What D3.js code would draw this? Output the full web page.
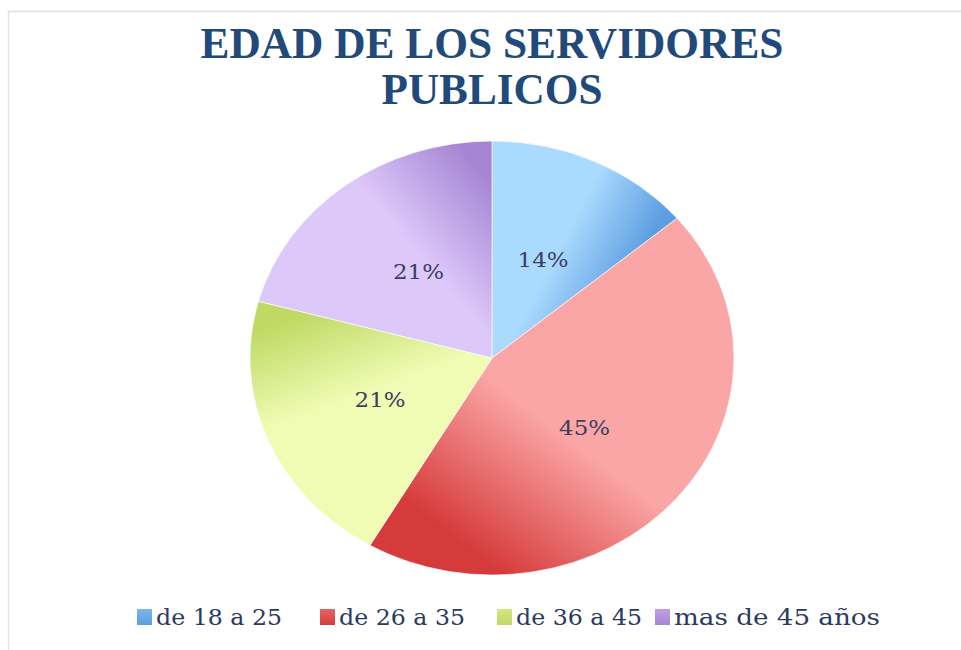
<!DOCTYPE html>
<html>
<head>
<meta charset="utf-8">
<script src="https://cdn.jsdelivr.net/npm/d3@7"></script>
<style>
  body { margin: 0; background: #fff; }
  svg { display: block; }
</style>
</head>
<body>
<div class="display"></div>
<script>
// data
const categories = ["de 18 a 25", "de 26 a 35", "de 36 a 45", "mas de 45 años"];
const values = [14, 45, 21, 21];
const lightColors = ["#abdaff", "#fba6a6", "#f0fcb4", "#ddc8fa"];
const darkColors = ["#5c9ee0", "#d63b3b", "#bfd964", "#a686d4"];
const titleLines = ["EDAD DE LOS SERVIDORES", "PUBLICOS"];

const width = 961, height = 650;
const svg = d3.select(".display").append("svg")
  .attr("width", width)
  .attr("height", height);

const defs = svg.append("defs");

// faint frame of the chart area
svg.append("rect")
  .attr("x", 8.5).attr("y", 11.5)
  .attr("width", width + 10).attr("height", height + 10)
  .attr("fill", "#ffffff")
  .attr("stroke", "#dde1e8")
  .attr("stroke-width", 1.5);

// title
svg.append("g")
  .selectAll("text")
  .data(titleLines)
  .join("text")
  .attr("x", 492)
  .attr("y", (d, i) => 58 + i * 46)
  .attr("text-anchor", "middle")
  .attr("font-family", "Liberation Serif, serif")
  .attr("font-weight", "bold")
  .attr("font-size", 44)
  .attr("fill", "#214a7b")
  .attr("textLength", (d, i) => i === 0 ? 583 : 221)
  .attr("lengthAdjust", "spacingAndGlyphs")
  .text(d => d);

// pie, a bit wider than tall like the original
const radius = 217;
const cx = 492, cy = 358;
const stretch = 242 / 217;

const pie = d3.pie().sort(null).value(d => d);
const arcs = pie(values);
const arc = d3.arc().innerRadius(0).outerRadius(radius);
const labelArc = d3.arc().innerRadius(radius * 0.5).outerRadius(radius * 0.5);

// gradients go from light at the start edge to dark at the end edge
arcs.forEach((a, i) => {
  const mid = (a.startAngle + a.endAngle) / 2;
  const half = (a.endAngle - a.startAngle) / 2;
  const r0 = radius * 0.65;
  const px = Math.sin(mid) * r0, py = -Math.cos(mid) * r0;
  const t = r0 * Math.sin(Math.min(half, Math.PI / 2)) + 20;
  const g = defs.append("linearGradient")
    .attr("id", "slice" + i)
    .attr("gradientUnits", "userSpaceOnUse")
    .attr("x1", px - Math.cos(mid) * t)
    .attr("y1", py - Math.sin(mid) * t)
    .attr("x2", px + Math.cos(mid) * t)
    .attr("y2", py + Math.sin(mid) * t);
  g.append("stop").attr("offset", "0%").attr("stop-color", lightColors[i]);
  g.append("stop").attr("offset", "55%").attr("stop-color", lightColors[i]);
  g.append("stop").attr("offset", "100%").attr("stop-color", darkColors[i]);

  const lg = defs.append("linearGradient")
    .attr("id", "key" + i)
    .attr("x1", 0).attr("y1", 0).attr("x2", 0).attr("y2", 1);
  lg.append("stop").attr("offset", "0%").attr("stop-color", d3.interpolateRgb(lightColors[i], darkColors[i])(0.6));
  lg.append("stop").attr("offset", "100%").attr("stop-color", darkColors[i]);
});

const pieGroup = svg.append("g")
  .attr("transform", `translate(${cx},${cy}) scale(${stretch},1)`);

pieGroup.selectAll("path")
  .data(arcs)
  .join("path")
  .attr("d", arc)
  .attr("fill", (d, i) => `url(#slice${i})`)
  .attr("stroke", "#ffffff")
  .attr("stroke-width", 0.6);

// percentage labels
svg.append("g")
  .selectAll("text")
  .data(arcs)
  .join("text")
  .attr("x", d => cx + labelArc.centroid(d)[0] * stretch)
  .attr("y", d => cy + labelArc.centroid(d)[1])
  .attr("dy", "0.36em")
  .attr("text-anchor", "middle")
  .attr("font-family", "DejaVu Serif, serif")
  .attr("font-size", 21)
  .attr("fill", "#3b3f5e")
  .attr("textLength", 51)
  .attr("lengthAdjust", "spacingAndGlyphs")
  .text(d => d.data + "%");

// legend
const legendX = [137, 320, 497, 655];
const legend = svg.append("g")
  .selectAll("g")
  .data(categories)
  .join("g")
  .attr("transform", (d, i) => `translate(${legendX[i]},617)`);

legend.append("rect")
  .attr("x", 0).attr("y", -8)
  .attr("width", 15).attr("height", 16)
  .attr("fill", (d, i) => `url(#key${i})`);

legend.append("text")
  .attr("x", 19)
  .attr("y", 0)
  .attr("dy", "0.35em")
  .attr("font-family", "DejaVu Serif, serif")
  .attr("font-size", 22)
  .attr("fill", "#2b3a5e")
  .attr("textLength", (d, i) => i === 3 ? 206 : 126)
  .attr("lengthAdjust", "spacingAndGlyphs")
  .text(d => d);
</script>
</body>
</html>
